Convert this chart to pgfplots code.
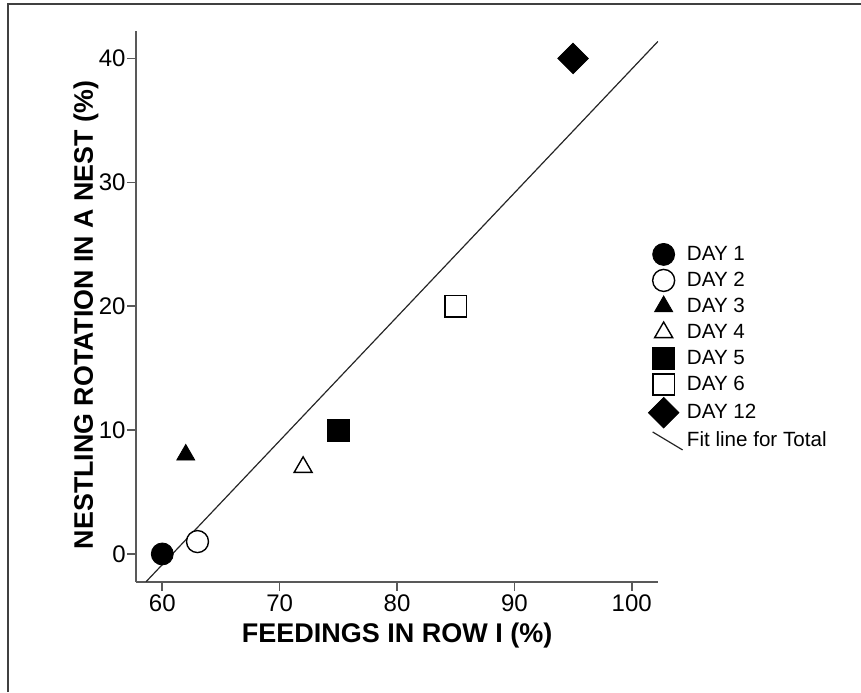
\documentclass[border=0pt]{standalone}
\usepackage{fontspec}
\setmainfont{Liberation Sans}
\usepackage{pgfplots}
\pgfplotsset{compat=1.18}
\pgfplotsset{
  mk legend/.style={legend image code/.code={\path[draw=none,fill=none] (-7pt,-6.5pt) rectangle (7pt,6.5pt); \draw[##1] plot coordinates {(0pt,0pt)};}},
  fit legend/.style={legend image code/.code={\path[draw=none,fill=none] (-7pt,-6.5pt) rectangle (7pt,6.5pt); \draw[##1,overlay] (-5.5pt,4.5pt) -- (9.5pt,-4.5pt);}}
}
\begin{document}
\begin{tikzpicture}[x=1pt,y=1pt]
\useasboundingbox (0,0) rectangle (430.5,346);
\draw[black!75, line width=1pt] (4,0) -- (4,344) -- (430.5,344);
\begin{axis}[
  at={(68pt,55.15pt)}, anchor=south west,
  width=261pt, height=275.5pt, scale only axis,
  xmin=57.76, xmax=102.24, ymin=-2.24, ymax=42.24,
  axis lines*=left,
  xtick={60,70,80,90,100}, ytick={0,10,20,30,40},
  tick align=outside, major tick length=4.5pt,
  axis line style={black!65, line width=0.8pt},
  tick style={black!65, line width=0.8pt},
  ticklabel style={font=\fontsize{12}{14}\selectfont},
  xticklabel style={inner ysep=2pt},
  yticklabel style={inner xsep=0.5pt},
  /pgf/number format/assume math mode=true,
  legend style={draw=none, fill=none, at={(0.9808,0.6183)}, anchor=north west,
    inner sep=0pt, font=\fontsize{10.3}{12}\selectfont, nodes={inner sep=0pt},
    row sep=0pt, /tikz/every odd column/.append style={column sep=4pt}},
  legend cell align=left,
]
\addplot[black!85, line width=0.6pt, no marks, forget plot] coordinates {(58.62,-2.24) (102.24,41.38)};
\addplot[black, mark=*, mark size=5.5pt, mk legend] coordinates {(60,0)};
\addlegendentry{DAY 1}
\addplot[black, mark=*, mark size=5.5pt, mark options={draw=black, fill=white, line width=0.7pt}, mk legend] coordinates {(63,1)};
\addlegendentry{DAY 2}
\addplot[black, mark=triangle*, mark size=5.2pt, mk legend] coordinates {(62,8)};
\addlegendentry{DAY 3}
\addplot[black, mark=triangle*, mark size=5.2pt, mark options={draw=black, fill=white, line width=0.7pt}, mk legend] coordinates {(72,7)};
\addlegendentry{DAY 4}
\addplot[black, mark=square*, mark size=5.5pt, mk legend] coordinates {(75,10)};
\addlegendentry{DAY 5}
\addplot[black, mark=square*, mark size=5.3pt, mark options={draw=black, fill=white, line width=0.7pt}, mk legend] coordinates {(85,20)};
\addlegendentry{DAY 6}
\addplot[black, mark=square*, mark size=5.4pt, mark options={rotate=45}, mk legend] coordinates {(95,40)};
\addlegendentry{DAY 12}
\addlegendimage{black!85, line width=0.6pt, fit legend}
\addlegendentry{Fit line for Total}
\end{axis}
\node[font=\bfseries\fontsize{13.5}{16}\selectfont] at (198.5,28) {FEEDINGS IN ROW I (\%)};
\node[rotate=90, font=\bfseries\fontsize{13.4}{16}\selectfont] at (43,188.5) {NESTLING ROTATION IN A NEST (\%)};
\end{tikzpicture}
\end{document}
